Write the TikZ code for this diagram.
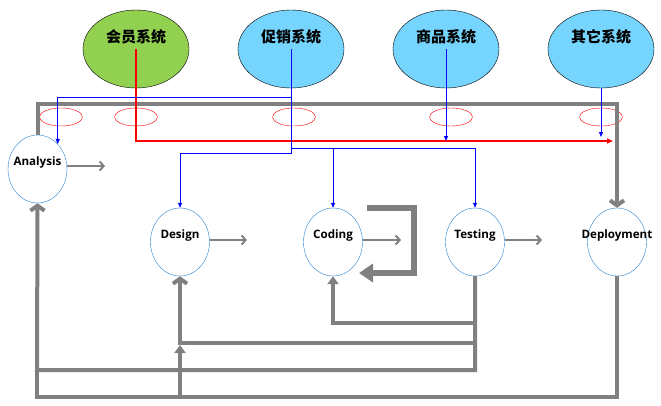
\documentclass[tikz,border=0pt]{standalone}
\usepackage{fontspec}
\setmainfont{Open Sans}
\newfontfamily\cjk{Noto Sans CJK SC}
\usepackage{tkz-euclide}
\usetikzlibrary{arrows.meta,shapes.geometric}
\definecolor{sysgreen}{RGB}{146,208,80}
\definecolor{sysblue}{RGB}{117,213,255}
\definecolor{stageblue}{RGB}{40,128,210}
\definecolor{flowgray}{RGB}{128,128,128}
\tikzset{
  sys/.style={ellipse, draw=black, fill=sysblue, minimum width=106pt, minimum height=78pt, inner sep=0pt,
    label={[font=\cjk\bfseries\fontsize{15}{15}\selectfont, yshift=12pt]center:#1}},
  stage/.style={ellipse, draw=stageblue, fill=white, minimum width=59pt, minimum height=68pt, inner sep=0pt,
    label={[font=\bfseries\fontsize{11.6}{13}\selectfont, yshift=7pt]center:#1}},
  ring/.style={ellipse, draw=red, minimum width=43pt, minimum height=18pt, inner sep=0pt},
  flow/.style={draw=flowgray, line width=4pt},
  barb/.style={-{Straight Barb[length=5pt,width=14pt]}},
  tri/.style={-{Triangle[length=8pt,width=11pt]}},
  next/.style={draw=flowgray, line width=2pt, -{Straight Barb[length=4pt,width=9pt]}},
  feed/.style={draw=blue, line width=0.8pt, -{Triangle[length=5pt,width=4pt]}},
}
\newcommand{\myRing}[2]{
\node[ring] (#1) at (#2) {};
}

\begin{document}
\begin{tikzpicture}[x=1pt,y=-1pt]
	\useasboundingbox (0,0) rectangle (661,405);
	\tkzDefPoints{617/104/T, 613/141/R, 291/97/B1, 291/153/B2, 291/148/B3,
	  105/166/a1, 247/240/a2, 401/240/a3, 542/240/a4,
	  367/208/L1, 414/273/L2, 359/273/L3,
	  333/323/C1, 180/343/C2, 37/370/C3, 37/397/C4}

	% systems
	\node[sys={会员系统}, fill=sysgreen] (hy) at (136,49) {};
	\node[sys={促销系统}] (cx) at (291,49) {};
	\node[sys={商品系统}] (sp) at (446,49) {};
	\node[sys={其它系统}] (qt) at (601,49) {};

	% stages
	\node[stage=Analysis] (an) at (37.5,169) {};
	\node[stage=Design] (dg) at (180,242) {};
	\node[stage=Coding] (cd) at (333,242) {};
	\node[stage=Testing] (ts) at (475,242) {};
	\node[stage=Deployment] (dp) at (617,242) {};

	\myRing{r1}{61,117}
	\myRing{r2}{136,117}
	\myRing{r3}{294,117}
	\myRing{r4}{451,117}
	\myRing{r5}{601,117}

	% big loop
	\draw[flow, barb] (an.north) |- (T) -- (dp.north);
	\draw[next] (an.east |- a1) -- (a1);
	\draw[next] (dg.east |- a2) -- (a2);
	\draw[next] (cd.east |- a3) -- (a3);
	\draw[next] (ts.east |- a4) -- (a4);
	\draw[flowgray, line width=6pt, -{Triangle[length=14pt,width=18pt]}] (L1) -| (L2) -- (L3);

	% feedback
	\draw[flow, tri] (ts.south) |- (C1) -- (cd.south);
	\draw[flow, barb] (ts.south) |- (C2) -- (dg.south);
	\draw[flow, barb] (ts.south) |- (C3) -- (an.south);
	\draw[flow] (dp.south) |- (C4) -- (C3);
	\draw[flow, tri, shorten >=2pt] (C4 -| C2) -- (C2);

	% systems to stages
	\draw[red, line width=1.5pt, -{Triangle[length=6pt,width=5pt]}] (hy.center) |- (R);
	\draw[feed] (cx.center) |- (B1) -| (an.51);
	\draw[feed] (cx.center) -- (B2) -| (dg.north);
	\draw[feed] (B3) -| (cd.north);
	\draw[feed] (B3) -| (ts.north);
	\draw[feed] (sp.center) -- (sp.center |- R);
	\draw[feed] (qt.south) -- ([yshift=4pt]qt.south |- R);
\end{tikzpicture}
\end{document}
